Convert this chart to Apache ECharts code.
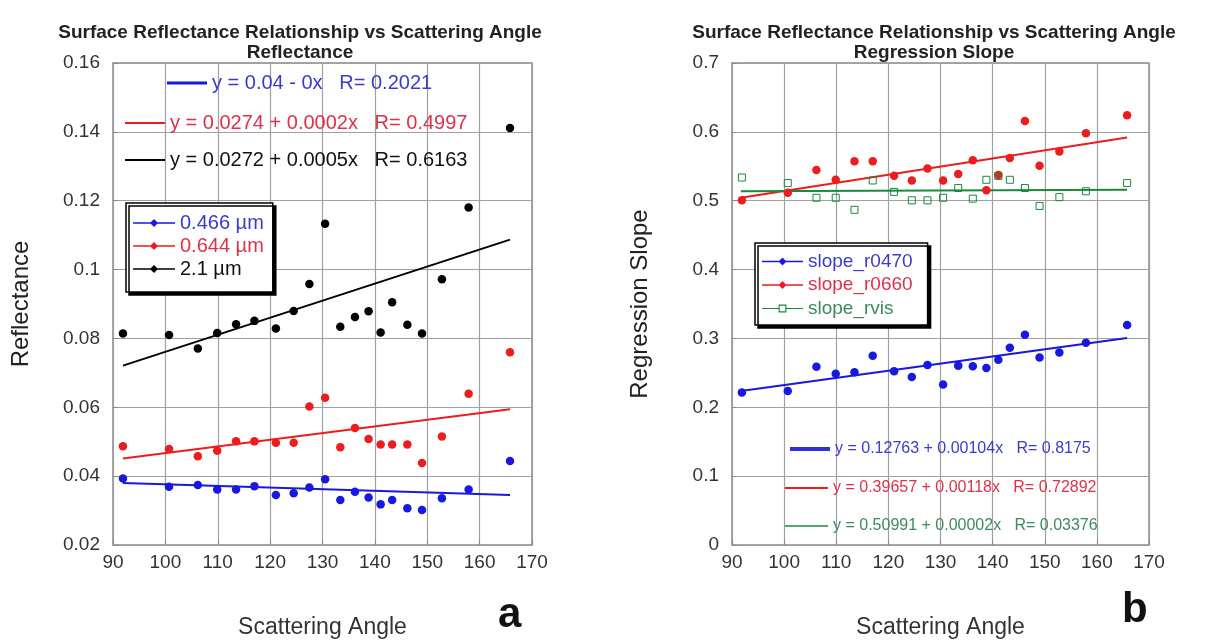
<!DOCTYPE html>
<html>
<head>
<meta charset="utf-8">
<script src="https://cdn.jsdelivr.net/npm/echarts@6/dist/echarts.min.js"></script>
<style>html,body{margin:0;padding:0;background:#fff;}#c{width:1215px;height:644px;}</style>
</head>
<body>
<div id="c"></div>
<script>
// ---- data ----
const angles = [91.9,100.7,106.2,109.9,113.5,117.0,121.1,124.5,127.5,130.5,133.4,136.2,138.8,141.1,143.3,146.2,149.0,152.8,157.9,165.8];
const refl466 = [0.0393,0.0369,0.0374,0.0361,0.0361,0.0371,0.0345,0.0350,0.0367,0.0391,0.0331,0.0355,0.0338,0.0318,0.0331,0.0307,0.0302,0.0336,0.0361,0.0444];
const refl644 = [0.0487,0.0479,0.0458,0.0474,0.0501,0.0501,0.0497,0.0497,0.0602,0.0628,0.0484,0.0540,0.0508,0.0492,0.0492,0.0492,0.0438,0.0515,0.0639,0.0760];
const refl21  = [0.0814,0.0810,0.0771,0.0816,0.0841,0.0851,0.0829,0.0880,0.0958,0.1133,0.0834,0.0862,0.0879,0.0817,0.0905,0.0840,0.0814,0.0972,0.1180,0.1411];
const slopeR0470 = [0.2216,0.2236,0.2590,0.2486,0.2510,0.2747,0.2524,0.2439,0.2614,0.2330,0.2605,0.2595,0.2571,0.2690,0.2865,0.3054,0.2723,0.2794,0.2936,0.3196];
const slopeR0660 = [0.5006,0.5114,0.5446,0.5304,0.5574,0.5574,0.5361,0.5294,0.5469,0.5294,0.5389,0.5588,0.5152,0.5375,0.5621,0.6156,0.5507,0.5716,0.5980,0.6241];
const slopeRvis  = [0.5337,0.5256,0.5043,0.5043,0.4868,0.5294,0.5128,0.5006,0.5006,0.5043,0.5185,0.5030,0.5304,0.5360,0.5304,0.5185,0.4924,0.5052,0.5137,0.5256];
// regression lines (end points)
const fitL466 = [[91.9,0.0380],[165.8,0.0345]];
const fitL644 = [[91.9,0.0451],[165.8,0.0594]];
const fitL21  = [[91.9,0.0721],[165.8,0.1087]];
const fitR0470 = [[91.7,0.2236],[165.8,0.3007]];
const fitR0660 = [[91.7,0.5043],[165.8,0.5919]];
const fitRvis  = [[91.7,0.5137],[165.8,0.5161]];
// labels
const namesLeft = ['0.466 \u00b5m','0.644 \u00b5m','2.1 \u00b5m'];
const namesRight = ['slope_r0470','slope_r0660','slope_rvis'];
const eqLeft = ['y = 0.04 - 0x   R= 0.2021','y = 0.0274 + 0.0002x   R= 0.4997','y = 0.0272 + 0.0005x   R= 0.6163'];
const eqRight = ['y = 0.12763 + 0.00104x   R= 0.8175','y = 0.39657 + 0.00118x   R= 0.72892','y = 0.50991 + 0.00002x   R= 0.03376'];
const xTicks = {min:90, max:170, interval:10};
const yTicksLeft = {min:0.02, max:0.16, interval:0.02};
const yTicksRight = {min:0, max:0.7, interval:0.1};
const titleText = 'Surface Reflectance Relationship vs Scattering Angle';
const subLeft = 'Reflectance', subRight = 'Regression Slope';
const xName = 'Scattering Angle';

// ---- styling ----
const FF = '"Liberation Sans", Arial, Helvetica, sans-serif';
const BLUE = '#1818e0', RED = '#ee1c1c', BLACK = '#000', GREEN = '#178a3c';
const TXT_BLUE = '#3a3ad0', TXT_RED = '#e0304a', TXT_GREEN = '#3d8b5d';
const pair = (xs, ys) => xs.map((x, i) => [x, ys[i]]);
const dotIcon = 'path://M0,5.2 L42,5.2 L42,6.8 L0,6.8 Z M21,2 L25,6 L21,10 L17,6 Z';
const sqIcon = 'path://M0,5.4 L17,5.4 L17,6.6 L0,6.6 Z M25,5.4 L42,5.4 L42,6.6 L25,6.6 Z M17,2 L25,2 L25,10 L17,10 Z M18.2,3.2 L18.2,8.8 L23.8,8.8 L23.8,3.2 Z';

function xAxis(gi){
  return {type:'value', gridIndex:gi, min:xTicks.min, max:xTicks.max, interval:xTicks.interval,
    name:xName, nameLocation:'middle', nameGap:71,
    nameTextStyle:{fontFamily:FF, fontSize:23, color:'#333'},
    axisLine:{show:false}, axisTick:{inside:true, length:5, lineStyle:{color:'#888'}},
    axisLabel:{fontFamily:FF, fontSize:19, color:'#333', margin:8},
    splitLine:{show:true, lineStyle:{color:'#a0a0a0', width:1.2}}};
}
function yAxis(gi, t, name){
  return {type:'value', gridIndex:gi, min:t.min, max:t.max, interval:t.interval,
    name:name, nameLocation:'middle', nameGap:80, nameRotate:90,
    nameTextStyle:{fontFamily:FF, fontSize:24, color:'#222'},
    axisLine:{show:false}, axisTick:{inside:true, length:5, lineStyle:{color:'#888'}},
    axisLabel:{fontFamily:FF, fontSize:19, color:'#333', margin:13},
    splitLine:{show:true, lineStyle:{color:'#a0a0a0', width:1.2}}};
}
function scatter(name, xi, data, color, opts){
  return Object.assign({type:'scatter', name:name, xAxisIndex:xi, yAxisIndex:xi, data:data,
    symbol:'circle', symbolSize:8.5, itemStyle:{color:color, opacity:1}, z:5}, opts||{});
}
function fit(name, xi, data, color, w){
  return {type:'line', name:name, xAxisIndex:xi, yAxisIndex:xi, data:data, showSymbol:false,
    symbol:'none', lineStyle:{color:color, width:w}, itemStyle:{color:color}, silent:true, z:4};
}
function eqLegend(name, left, cy, color, lineColor, iw, ih, fs){
  return {left:left, top:cy - fs/2, padding:0, itemGap:0, itemWidth:iw, itemHeight:ih, icon:'rect',
    selectedMode:false, orient:'vertical',
    textStyle:{fontFamily:FF, fontSize:fs, color:color},
    data:[{name:name, icon:'rect', itemStyle:{color:lineColor}, textStyle:{color:color}}]};
}

const option = {
  backgroundColor:'#fff',
  animation:false,
  title:[
    {text:titleText + '\n' + subLeft, left:300, top:23, textAlign:'center', padding:0,
     textStyle:{fontFamily:FF, fontSize:19, fontWeight:'bold', color:'#222', lineHeight:20}},
    {text:titleText + '\n' + subRight, left:934, top:23, textAlign:'center', padding:0,
     textStyle:{fontFamily:FF, fontSize:19, fontWeight:'bold', color:'#222', lineHeight:20}}
  ],
  grid:[
    {left:113, top:63, width:419, height:493, show:true, borderColor:'#888', borderWidth:1.5, backgroundColor:'transparent'},
    {left:732, top:63, width:417, height:494, show:true, borderColor:'#888', borderWidth:1.5, backgroundColor:'transparent'}
  ],
  xAxis:[xAxis(0), xAxis(1)],
  yAxis:[yAxis(0, yTicksLeft, 'Reflectance'), yAxis(1, yTicksRight, 'Regression Slope')],
  legend:[
    eqLegend(eqLeft[0], 167, 83, TXT_BLUE, BLUE, 40, 3, 20),
    eqLegend(eqLeft[1], 125, 123, TXT_RED, RED, 40, 2, 20),
    eqLegend(eqLeft[2], 125, 160, '#111', BLACK, 40, 2, 20),
    {left:126, top:203, orient:'vertical', padding:[10,9,13,7], itemGap:3, itemWidth:42, itemHeight:8,
     selectedMode:false, backgroundColor:'#fff', borderColor:'#000', borderWidth:1.5,
     shadowColor:'#000', shadowBlur:0, shadowOffsetX:3, shadowOffsetY:3,
     textStyle:{fontFamily:FF, fontSize:20},
     data:[{name:namesLeft[0], icon:dotIcon, itemStyle:{color:BLUE}, textStyle:{color:TXT_BLUE}},
           {name:namesLeft[1], icon:dotIcon, itemStyle:{color:RED}, textStyle:{color:TXT_RED}},
           {name:namesLeft[2], icon:dotIcon, itemStyle:{color:BLACK}, textStyle:{color:'#111'}}]},
    {left:755, top:243, orient:'vertical', padding:[9,15,7,7], itemGap:4.5, itemWidth:41, itemHeight:8,
     selectedMode:false, backgroundColor:'#fff', borderColor:'#000', borderWidth:1.5,
     shadowColor:'#000', shadowBlur:0, shadowOffsetX:3, shadowOffsetY:3,
     textStyle:{fontFamily:FF, fontSize:19},
     data:[{name:namesRight[0], icon:dotIcon, itemStyle:{color:BLUE}, textStyle:{color:TXT_BLUE}},
           {name:namesRight[1], icon:dotIcon, itemStyle:{color:RED}, textStyle:{color:TXT_RED}},
           {name:namesRight[2], icon:sqIcon, itemStyle:{color:GREEN, borderWidth:0}, textStyle:{color:TXT_GREEN}}]},
    eqLegend(eqRight[0], 790, 449, TXT_BLUE, '#3030e0', 40, 4, 16),
    eqLegend(eqRight[1], 785, 488, TXT_RED, RED, 43, 2, 16),
    eqLegend(eqRight[2], 785, 526, TXT_GREEN, GREEN, 43, 1.5, 16)
  ],
  graphic:[
    {type:'text', left:498, top:594, style:{text:'a', font:'bold 42px "Liberation Sans Narrow", "Liberation Sans", sans-serif', fill:'#111'}},
    {type:'text', left:1122, top:589, style:{text:'b', font:'bold 42px "Liberation Sans Narrow", "Liberation Sans", sans-serif', fill:'#111'}}
  ],
  series:[
    fit(eqLeft[0], 0, fitL466, BLUE, 2),
    fit(eqLeft[1], 0, fitL644, RED, 2),
    fit(eqLeft[2], 0, fitL21, BLACK, 2),
    scatter(namesLeft[0], 0, pair(angles, refl466), BLUE),
    scatter(namesLeft[1], 0, pair(angles, refl644), RED),
    scatter(namesLeft[2], 0, pair(angles, refl21), BLACK),
    fit(eqRight[0], 1, fitR0470, BLUE, 2),
    fit(eqRight[1], 1, fitR0660, RED, 2),
    fit(eqRight[2], 1, fitRvis, GREEN, 2),
    scatter(namesRight[0], 1, pair(angles, slopeR0470), BLUE),
    scatter(namesRight[1], 1, pair(angles, slopeR0660), RED),
    scatter(namesRight[2], 1, pair(angles, slopeRvis), GREEN,
      {symbol:'rect', symbolSize:7, itemStyle:{color:'rgba(255,255,255,0)', borderColor:GREEN, borderWidth:1, opacity:1}})
  ]
};
const chart = echarts.init(document.getElementById('c'), null, {renderer:'canvas'});
chart.setOption(option);
</script>
</body>
</html>
